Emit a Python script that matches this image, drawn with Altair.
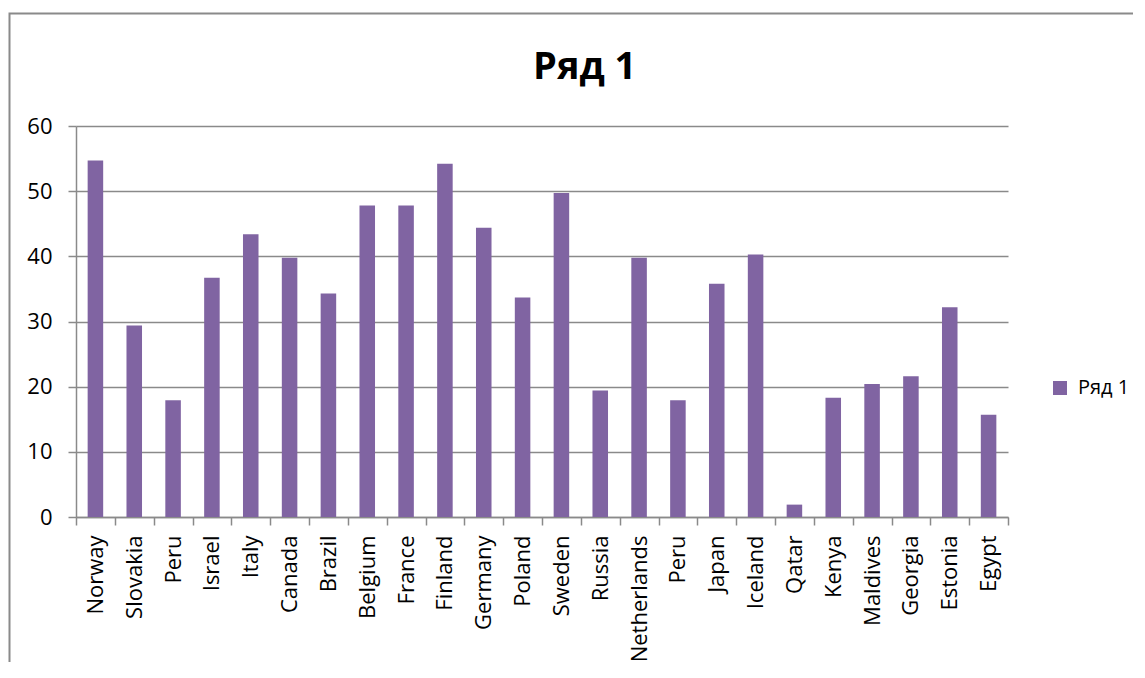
import altair as alt
import pandas as pd

countries = ["Norway", "Slovakia", "Peru", "Israel", "Italy", "Canada", "Brazil",
             "Belgium", "France", "Finland", "Germany", "Poland", "Sweden", "Russia",
             "Netherlands", "Peru", "Japan", "Iceland", "Qatar", "Kenya", "Maldives",
             "Georgia", "Estonia", "Egypt"]
values = [54.7, 29.4, 17.9, 36.7, 43.4, 39.8, 34.3, 47.8, 47.8, 54.2, 44.4, 33.7,
          49.7, 19.4, 39.8, 17.9, 35.8, 40.3, 1.9, 18.3, 20.4, 21.6, 32.2, 15.7]
series_name = "Ряд 1"
title_text = "Ряд 1"
y_ticks = [0, 10, 20, 30, 40, 50, 60]

FONT = "Open Sans"
GRAY = "#8a8a8a"
PURPLE = "#8064A2"

df = pd.DataFrame({"idx": list(range(len(countries))), "country": countries,
                   "value": values, "series": [series_name] * len(countries)})

labels_js = "[" + ",".join("'" + c + "'" for c in countries) + "]"

W, H = 932, 391

bars = alt.Chart(df).mark_bar(width=alt.RelativeBandSize(0.4)).encode(
    x=alt.X("idx:O", scale=alt.Scale(paddingInner=0, paddingOuter=0),
            axis=alt.Axis(title=None, labelExpr=labels_js + "[datum.value]",
                          labelAngle=270, labelFont=FONT, labelFontSize=22,
                          labelColor="#000000", labelPadding=10,
                          tickBand="extent", tickSize=8, tickColor=GRAY,
                          tickWidth=1.5, domainColor=GRAY, domainWidth=1.5,
                          grid=False)),
    y=alt.Y("value:Q", scale=alt.Scale(domain=[0, 60], nice=False),
            axis=alt.Axis(title=None, values=y_ticks, labelFont=FONT,
                          labelFontSize=22, labelColor="#000000", labelPadding=16,
                          tickSize=8, tickColor=GRAY, tickWidth=1.5,
                          domainColor=GRAY, domainWidth=1.5,
                          gridColor=GRAY, gridWidth=1.5)),
    color=alt.Color("series:N", scale=alt.Scale(range=[PURPLE]),
                    legend=alt.Legend(title=None, orient="none", legendX=974,
                                      legendY=252, symbolType="square",
                                      symbolSize=196, symbolStrokeWidth=0,
                                      labelFont=FONT, labelFontSize=20,
                                      labelColor="#000000", labelOffset=8)),
)

title = alt.Chart(pd.DataFrame({"t": [title_text]})).mark_text(
    font=FONT, fontSize=38, fontWeight="bold", color="#000000",
    align="center", baseline="alphabetic"
).encode(text="t:N", x=alt.value(508.7), y=alt.value(-46.7))

border = alt.Chart(pd.DataFrame({"a": [0]})).mark_rect(
    fill=None, stroke=GRAY, strokeWidth=2, clip=False
).encode(x=alt.value(-66.5), x2=alt.value(1090), y=alt.value(-112.5), y2=alt.value(570))

chart = alt.layer(border, bars, title).properties(
    width=W, height=H,
    autosize=alt.AutoSizeParams(type="none"),
    padding={"left": 68, "top": 118, "right": 125, "bottom": 145},
).configure_view(stroke=None)

chart.save("out.html", embed_options={"renderer": "svg", "actions": False})
